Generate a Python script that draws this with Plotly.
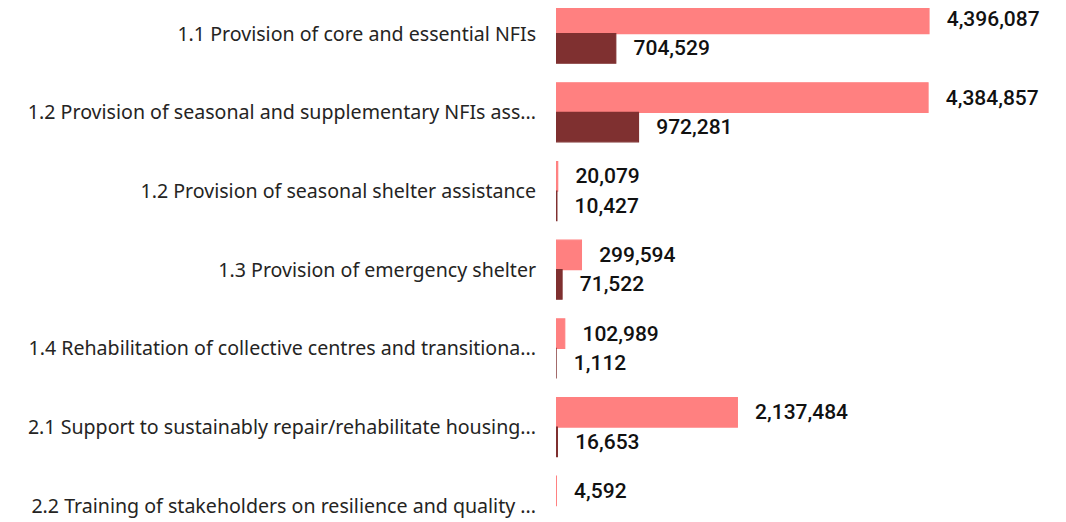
import plotly.graph_objects as go

categories = [
    "1.1 Provision of core and essential NFIs",
    "1.2 Provision of seasonal and supplementary NFIs ass...",
    "1.2 Provision of seasonal shelter assistance",
    "1.3 Provision of emergency shelter",
    "1.4 Rehabilitation of collective centres and transitiona...",
    "2.1 Support to sustainably repair/rehabilitate housing...",
    "2.2 Training of stakeholders on resilience and quality ...",
]
series_a = [4396087, 4384857, 20079, 299594, 102989, 2137484, 4592]
series_b = [704529, 972281, 10427, 71522, 1112, 16653, None]

pink = "#FF8080"
maroon = "#7F3030"
label_font = dict(family="Roboto", size=21, color="#111111", weight=500)
label_template = "  \u2009%{x:,}"

fig = go.Figure()
fig.add_trace(go.Bar(
    y=categories, x=series_a, orientation="h", name="A",
    marker=dict(color=pink, line=dict(color=pink, width=1.2)),
    texttemplate=label_template, textposition="outside", textfont=label_font,
    cliponaxis=False,
))
fig.add_trace(go.Bar(
    y=categories, x=series_b, orientation="h", name="B",
    marker=dict(color=maroon, line=dict(color=maroon, width=1.2)),
    texttemplate=label_template, textposition="outside", textfont=label_font,
    cliponaxis=False,
))

fig.update_layout(
    width=1066, height=522,
    margin=dict(l=548, r=0, t=0, b=0),
    barmode="group", bargap=0.25, bargroupgap=0,
    showlegend=False,
    plot_bgcolor="white", paper_bgcolor="white",
)
fig.update_xaxes(range=[0, 6105000], visible=False, showgrid=False, zeroline=False)
fig.update_yaxes(
    type="category", range=[6.309, -0.3267], showgrid=False, zeroline=False,
    showline=False, ticks="outside", ticklen=15, tickcolor="rgba(0,0,0,0)",
    tickfont=dict(family="Noto Sans", size=19.6, color="#252423"),
    automargin=False,
)

fig.write_html("out.html")
